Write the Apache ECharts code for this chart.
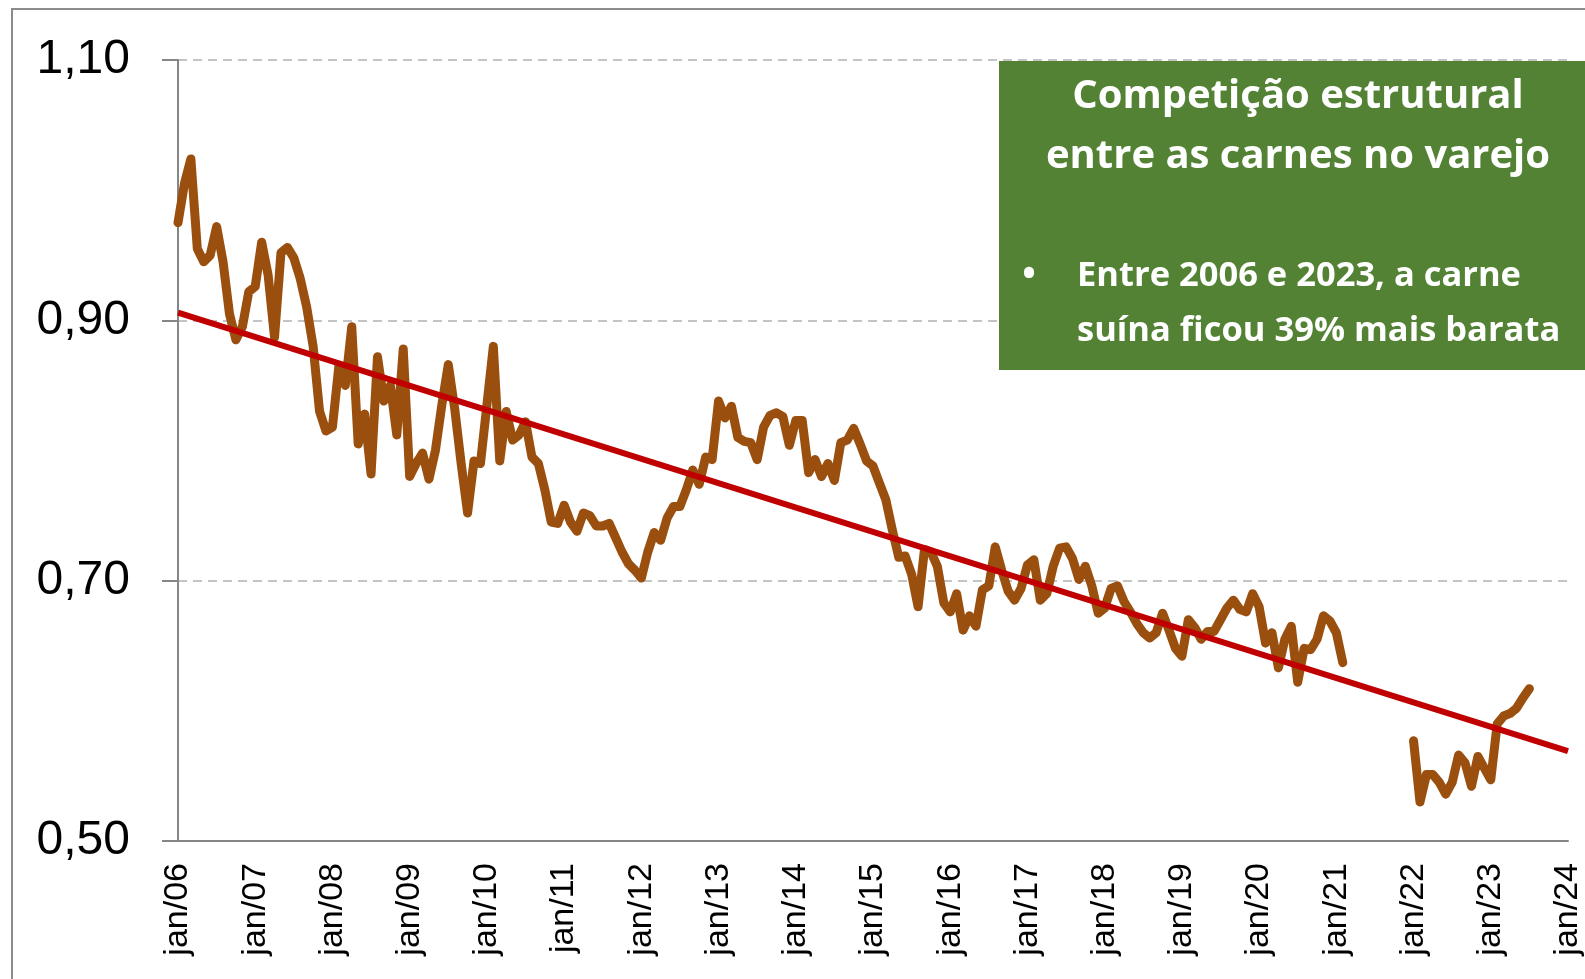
<!DOCTYPE html>
<html>
<head>
<meta charset="utf-8">
<title>Competição estrutural entre as carnes no varejo</title>
<script src="https://cdn.jsdelivr.net/npm/echarts/dist/echarts.min.js"></script>
<style>
    html, body { margin: 0; padding: 0; background: #ffffff; }
    #chart { width: 1585px; height: 979px; }
</style>
</head>
<body>
<div id="chart"></div>
<script>
// monthly series, jan/06 .. jan/24 (null = no data)
const porkRatio = [
    0.975, 1.005, 1.024, 0.955, 0.945, 0.950, 0.972, 0.945, 0.905, 0.885, 0.895, 0.922, // 2006
    0.926, 0.960, 0.935, 0.887, 0.952, 0.956, 0.948, 0.932, 0.910, 0.880, 0.830, 0.815, // 2007
    0.818, 0.865, 0.850, 0.895, 0.805, 0.828, 0.782, 0.872, 0.838, 0.850, 0.812, 0.878, // 2008
    0.780, 0.790, 0.798, 0.778, 0.800, 0.835, 0.866, 0.832, 0.790, 0.752, 0.792, 0.790, // 2009
    0.835, 0.880, 0.792, 0.830, 0.808, 0.812, 0.822, 0.795, 0.790, 0.770, 0.745, 0.744, // 2010
    0.758, 0.745, 0.738, 0.752, 0.750, 0.742, 0.742, 0.744, 0.733, 0.722, 0.713, 0.708, // 2011
    0.702, 0.722, 0.737, 0.731, 0.748, 0.757, 0.757, 0.770, 0.785, 0.774, 0.795, 0.793, // 2012
    0.838, 0.825, 0.834, 0.810, 0.807, 0.806, 0.793, 0.818, 0.827, 0.829, 0.826, 0.804, // 2013
    0.823, 0.823, 0.783, 0.793, 0.780, 0.790, 0.777, 0.806, 0.808, 0.817, 0.805, 0.792, // 2014
    0.788, 0.775, 0.762, 0.739, 0.718, 0.719, 0.705, 0.680, 0.724, 0.722, 0.711, 0.683, // 2015
    0.676, 0.690, 0.662, 0.673, 0.665, 0.693, 0.696, 0.726, 0.708, 0.692, 0.685, 0.694, // 2016
    0.712, 0.716, 0.685, 0.690, 0.711, 0.725, 0.726, 0.717, 0.701, 0.711, 0.696, 0.675, // 2017
    0.679, 0.694, 0.696, 0.684, 0.676, 0.667, 0.660, 0.656, 0.660, 0.675, 0.662, 0.648, // 2018
    0.642, 0.670, 0.664, 0.655, 0.661, 0.661, 0.670, 0.679, 0.685, 0.678, 0.676, 0.690, // 2019
    0.680, 0.652, 0.660, 0.633, 0.655, 0.665, 0.622, 0.648, 0.647, 0.655, 0.673, 0.669, // 2020
    0.660, 0.637, null, null, null, null, null, null, null, null, null, null,           // 2021
    0.577, 0.530, 0.551, 0.551, 0.545, 0.536, 0.545, 0.566, 0.560, 0.542, 0.565, 0.556, // 2022
    0.547, 0.590, 0.596, 0.598, 0.602, 0.610, 0.617, null, null, null, null, null,       // 2023
    null                                                                                 // jan/24
];

// linear trend, jan/06 -> jan/24
const trendStart = 0.906;
const trendEnd = 0.569;

const monthNames = ['jan', 'fev', 'mar', 'abr', 'mai', 'jun', 'jul', 'ago', 'set', 'out', 'nov', 'dez'];
const firstYear = 2006;

const boxTitle = ['Competição estrutural', 'entre as carnes no varejo'];
const boxBullet = ['Entre 2006 e 2023, a carne', 'suína ficou 39% mais barata'];

function buildMonths() {
    const months = [];
    for (let i = 0; i < porkRatio.length; i++) {
        const y = firstYear + Math.floor(i / 12);
        months.push(monthNames[i % 12] + '/' + String(y).slice(2));
    }
    return months;
}

var myChart = echarts.init(document.getElementById('chart'));
const months = buildMonths();
const axisGray = '#868686';
const boxFont = '"Open Sans", sans-serif';

myChart.setOption({
    animation: false,
    backgroundColor: '#ffffff',
    grid: { left: 178, top: 60, right: 15, bottom: 138 },
    xAxis: {
        type: 'category',
        data: months,
        boundaryGap: false,
        axisLine: { lineStyle: { color: axisGray, width: 2 } },
        axisTick: { show: false },
        axisLabel: {
            interval: 11,
            rotate: 90,
            margin: 22,
            color: '#000000',
            fontFamily: '"Liberation Sans", Arial, sans-serif',
            fontSize: 34
        },
        splitLine: { show: false }
    },
    yAxis: {
        type: 'value',
        min: 0.5,
        max: 1.1,
        interval: 0.2,
        axisLine: { show: true, lineStyle: { color: axisGray, width: 2 } },
        axisTick: { show: true, length: 16, lineStyle: { color: axisGray, width: 2 } },
        axisLabel: {
            margin: 48,
            color: '#000000',
            fontFamily: '"Liberation Sans", Arial, sans-serif',
            fontSize: 48,
            formatter: v => v.toFixed(2).replace('.', ',')
        },
        splitLine: { lineStyle: { color: '#c4c4c4', width: 2, type: [9, 6] } }
    },
    series: [
        {
            name: 'Suíno / bovino',
            type: 'line',
            data: porkRatio,
            showSymbol: false,
            connectNulls: false,
            lineStyle: { color: '#9a4f0e', width: 9, join: 'round', cap: 'round' },
            z: 2
        },
        {
            name: 'Tendência',
            type: 'line',
            data: [[0, trendStart], [months.length - 1, trendEnd]],
            showSymbol: false,
            lineStyle: { color: '#c00000', width: 6 },
            z: 3
        }
    ],
    graphic: [
        {
            type: 'rect',
            shape: { x: 12, y: 9, width: 1620, height: 1020 },
            style: { fill: 'none', stroke: '#8c8c8c', lineWidth: 2 },
            z: 10
        },
        {
            type: 'rect',
            shape: { x: 999, y: 61, width: 600, height: 309 },
            style: { fill: '#548235' },
            z: 20
        },
        {
            type: 'text', x: 1298, y: 97, z: 21,
            style: { text: boxTitle[0], fill: '#fff', font: 'bold 40px ' + boxFont, align: 'center', verticalAlign: 'middle' }
        },
        {
            type: 'text', x: 1298, y: 157, z: 21,
            style: { text: boxTitle[1], fill: '#fff', font: 'bold 40px ' + boxFont, align: 'center', verticalAlign: 'middle' }
        },
        {
            type: 'text', x: 1029, y: 276, z: 21,
            style: { text: '•', fill: '#fff', font: 'bold 36px ' + boxFont, align: 'center', verticalAlign: 'middle' }
        },
        {
            type: 'text', x: 1077, y: 276, z: 21,
            style: { text: boxBullet[0], fill: '#fff', font: 'bold 34.5px ' + boxFont, align: 'left', verticalAlign: 'middle' }
        },
        {
            type: 'text', x: 1077, y: 331, z: 21,
            style: { text: boxBullet[1], fill: '#fff', font: 'bold 34.5px ' + boxFont, align: 'left', verticalAlign: 'middle' }
        }
    ]
});

window.addEventListener('resize', () => {
    if (myChart) {
        myChart.resize();
    }
});
</script>
</body>
</html>
